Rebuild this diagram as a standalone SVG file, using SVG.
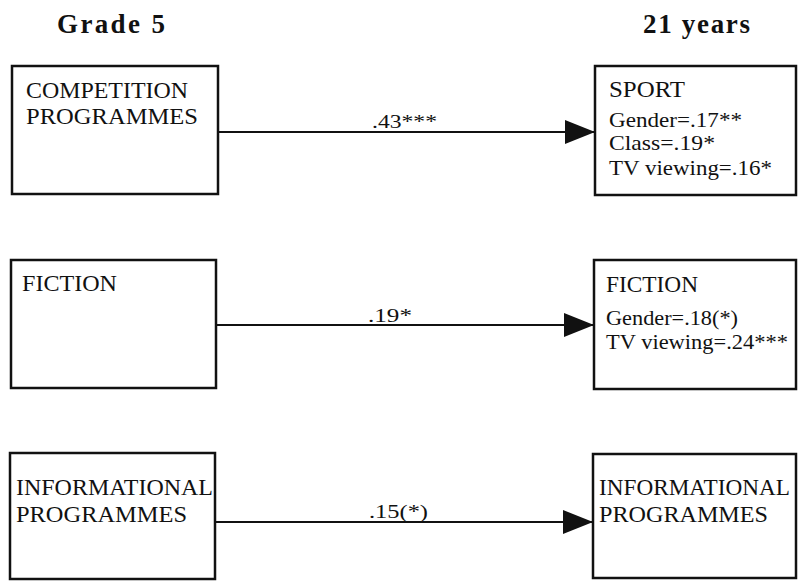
<svg xmlns="http://www.w3.org/2000/svg" width="798" height="581" viewBox="0 0 798 581">
<style>
.box{fill:#fff;stroke:#111;stroke-width:2.5}
.t{font-family:"Liberation Serif","Times New Roman",serif;fill:#111}
.hd{font-size:27px;font-weight:bold}
.nm{font-size:24px}
.sm{font-size:21px}
.lb{font-size:19px}
.edge{stroke:#111;stroke-width:2.2;fill:none;marker-end:url(#ah)}
</style>
<defs>
<marker id="ah" markerUnits="userSpaceOnUse" markerWidth="31" markerHeight="24" refX="30" refY="12" orient="auto">
<path d="M0,0 L30,12 L0,24 z" fill="#111"/>
</marker>
</defs>
<rect width="798" height="581" fill="#fff"/>
<text class="t hd" x="57" y="33" textLength="108" lengthAdjust="spacing">Grade 5</text>
<text class="t hd" x="643" y="33" textLength="107" lengthAdjust="spacing">21 years</text>
<g id="competition-g5">
<rect class="box" x="12" y="66" width="206" height="128"/>
<text class="t nm" x="26" y="98" textLength="162" lengthAdjust="spacingAndGlyphs">COMPETITION</text>
<text class="t nm" x="26" y="124" textLength="172" lengthAdjust="spacingAndGlyphs">PROGRAMMES</text>
</g>
<g id="sport-21">
<rect class="box" x="595" y="66" width="201" height="129"/>
<text class="t nm" x="609" y="97" textLength="76" lengthAdjust="spacingAndGlyphs">SPORT</text>
<text class="t sm" x="609" y="127" textLength="133" lengthAdjust="spacingAndGlyphs">Gender=.17**</text>
<text class="t sm" x="609" y="150" textLength="106" lengthAdjust="spacingAndGlyphs">Class=.19*</text>
<text class="t sm" x="609" y="175" textLength="163" lengthAdjust="spacingAndGlyphs">TV viewing=.16*</text>
</g>
<g id="fiction-g5">
<rect class="box" x="11" y="260" width="205" height="128"/>
<text class="t nm" x="22" y="291" textLength="95" lengthAdjust="spacingAndGlyphs">FICTION</text>
</g>
<g id="fiction-21">
<rect class="box" x="594" y="260" width="202" height="129"/>
<text class="t nm" x="606" y="292" textLength="92" lengthAdjust="spacingAndGlyphs">FICTION</text>
<text class="t sm" x="606" y="325" textLength="132" lengthAdjust="spacingAndGlyphs">Gender=.18(*)</text>
<text class="t sm" x="606" y="349" textLength="182" lengthAdjust="spacingAndGlyphs">TV viewing=.24***</text>
</g>
<g id="informational-g5">
<rect class="box" x="10" y="453" width="205" height="126"/>
<text class="t nm" x="16" y="495" textLength="197" lengthAdjust="spacingAndGlyphs">INFORMATIONAL</text>
<text class="t nm" x="16" y="522" textLength="171" lengthAdjust="spacingAndGlyphs">PROGRAMMES</text>
</g>
<g id="informational-21">
<rect class="box" x="593" y="454" width="203" height="124"/>
<text class="t nm" x="599" y="495" textLength="191" lengthAdjust="spacingAndGlyphs">INFORMATIONAL</text>
<text class="t nm" x="599" y="522" textLength="169" lengthAdjust="spacingAndGlyphs">PROGRAMMES</text>
</g>
<g id="connectors">
<line class="edge" x1="218" y1="132" x2="595" y2="132"/>
<text class="t lb" x="372" y="128" textLength="65" lengthAdjust="spacingAndGlyphs">.43***</text>
<line class="edge" x1="216" y1="325" x2="594" y2="325"/>
<text class="t lb" x="368" y="322" textLength="44" lengthAdjust="spacingAndGlyphs">.19*</text>
<line class="edge" x1="215" y1="522" x2="593" y2="522"/>
<text class="t lb" x="369" y="518" textLength="59" lengthAdjust="spacingAndGlyphs">.15(*)</text>
</g>
</svg>
